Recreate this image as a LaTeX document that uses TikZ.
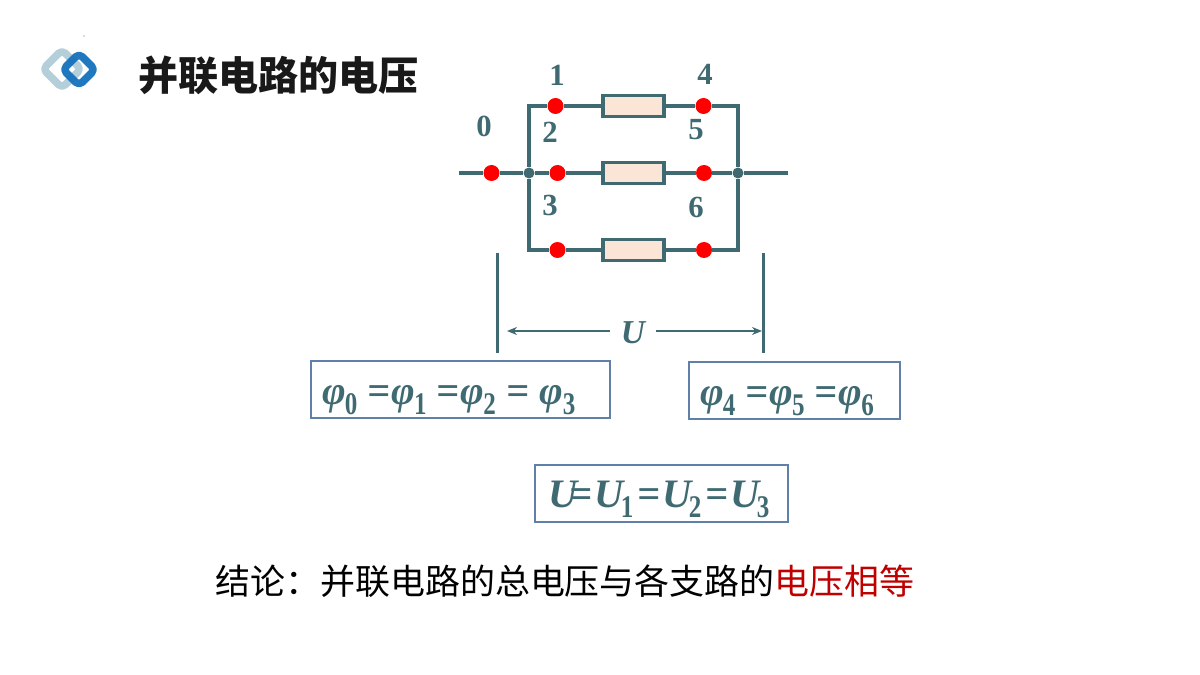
\documentclass[tikz,border=0pt]{standalone}
\usepackage{fontspec}
\usepackage{xcolor}
\usetikzlibrary{arrows.meta}
\usetikzlibrary{positioning}
\setmainfont{Liberation Serif}
\newfontfamily\cjk{Noto Sans CJK SC}
\definecolor{wire}{HTML}{3F6A72}
\definecolor{bluebox}{HTML}{5F80A8}
\definecolor{resfill}{HTML}{FBE5D6}
\definecolor{logolight}{HTML}{B5CFDA}
\definecolor{logodark}{HTML}{1471BC}
\newcommand{\subs}[1]{\raisebox{-0.24em}{\scalebox{0.62}[0.78]{\textup{#1}}}}
\newcommand{\phis}[1]{φ\kern-0.02em\subs{#1}}
\newcommand{\eqs}{\kern0.25em=\kern0.02em}
\newcommand{\equ}[1]{U\kern-0.06em\subs{#1}\kern0.09em=\kern0.05em}
\tikzset{
  % Common styles for the circuit
  line/.style={draw=wire, line width=0.065cm},
  resistor/.style={rectangle, draw=wire, line width=0.07cm, fill=resfill, minimum width=1.22cm, minimum height=0.42cm, inner sep=0pt},
  probe/.style={circle, fill=red, minimum size=0.32cm, inner sep=0pt},
  junction/.style={circle, fill=wire, minimum size=0.22cm, inner sep=0pt},
  number/.style={text=wire, font=\bfseries\fontsize{17.5}{20}\selectfont, inner sep=0pt},
  eqbox/.style={rectangle, draw=bluebox, line width=0.035cm, text=wire, align=left, inner xsep=0.22cm, inner ysep=0pt, text height=0.88cm, text depth=0.26cm, font=\bfseries\itshape\fontsize{23}{28}\selectfont}
}

\begin{document}
\begin{tikzpicture}[
    x=0.02cm, y=-0.02cm,
    arrow/.style={-{Stealth[length=0.2cm,width=0.16cm]}, draw=wire, line width=0.045cm},
    tick/.style={draw=wire, line width=0.06cm},
    logo/.style={rounded corners=0.09cm, line width=0.15cm, line join=round}
]
\useasboundingbox (0,0) rectangle (1200,675);

% Logo and title
\draw[logo, draw=logolight] (62,50) -- (81,69) -- (62,88) -- (43,69) -- cycle;
\draw[logo, draw=logodark, opacity=0.95] (79,53.5) -- (95,69.5) -- (79,85.5) -- (63,69.5) -- cycle;
\fill[black!60] (84,36) circle (0.012cm);
\node[anchor=west, inner sep=0pt, font=\cjk\bfseries\fontsize{22.8}{26}\selectfont, text=black!90] (title) at (138,75) {并联电路的电压};

% Circuit nodes
\node[probe] (p0) at (491.5,173) {};
\node[probe] (p1) at (555.5,106) {};
\node[probe] (p2) at (557.5,173) {};
\node[probe] (p3) at (557.5,250) {};
\node[probe] (p4) at (703.5,106) {};
\node[probe] (p5) at (704,173) {};
\node[probe] (p6) at (704,250) {};
\node[junction] (jl) at (529,173) {};
\node[junction] (jr) at (738,173) {};
\node[resistor] (r1) at (633.5,106) {};
\node[resistor] (r2) at (633.5,173) {};
\node[resistor] (r3) at (633.5,250) {};
\coordinate (inwire) at (459,173);
\coordinate (outwire) at (788,173);

% Wires
\draw[line] (inwire) -- (p0) -- (jl) -- (p2) -- (r2) -- (p5) -- (jr) -- (outwire);
\draw[line] (jl) |- (p1);
\draw[line] (p1) -- (r1) -- (p4);
\draw[line] (p4) -| (jr);
\draw[line] (jl) |- (p3);
\draw[line] (p3) -- (r3) -- (p6);
\draw[line] (p6) -| (jr);

% Point numbers
\node[number] (n0) at (484,126) {0};
\node[number] (n1) at (557,75) {1};
\node[number] (n2) at (550,132) {2};
\node[number] (n3) at (550,205) {3};
\node[number] (n4) at (705,74) {4};
\node[number] (n5) at (696,130) {5};
\node[number] (n6) at (696,207) {6};

% Voltage span
\coordinate (ltop) at (497,253);
\coordinate (lbot) at (497,353);
\coordinate (rtop) at (763,253);
\coordinate (rbot) at (763,353);
\coordinate (uleft) at (507,331);
\coordinate (uright) at (762,331);
\draw[tick] (ltop) -- (lbot);
\draw[tick] (rtop) -- (rbot);
\node[text=wire, inner sep=0pt, minimum width=0.92cm, font=\bfseries\itshape\fontsize{19}{22}\selectfont] (ulabel) at (633,333) {U};
\draw[arrow] (ulabel.west |- uleft) -- (uleft);
\draw[arrow] (ulabel.east |- uright) -- (uright);

% Equations
\node[eqbox, text width=5.54cm] (left) at (460.5,389.5) {\phis{0}\eqs\phis{1}\eqs\phis{2}\eqs\kern0.25em\phis{3}};
\node[eqbox, text width=3.78cm] (right) at (794.5,390.5) {\phis{4}\eqs\phis{5}\eqs\phis{6}};
\node[eqbox, text width=4.54cm, inner xsep=0.26cm, text height=0.86cm, text depth=0.28cm] (total) at (661.5,493.5) {U\kern-0.2em=\kern0.05em\equ{1}\equ{2}U\kern-0.06em\subs{3}};

% Conclusion
\node[anchor=west, inner sep=0pt, font=\cjk\fontsize{19.9}{24}\selectfont] (result) at (215,581) {结论：并联电路的总电压与各支路的\textcolor[HTML]{C00000}{电压相等}};
\end{tikzpicture}
\end{document}
